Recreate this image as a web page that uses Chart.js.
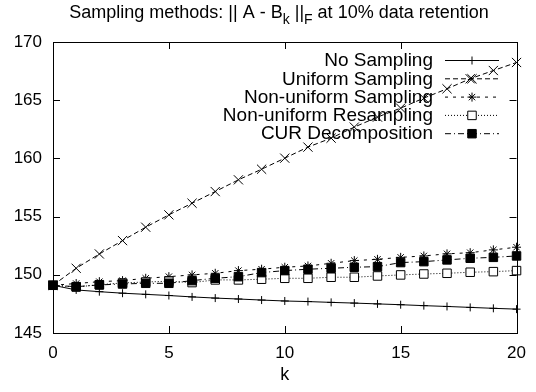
<!DOCTYPE html>
<html>
<head>
<meta charset="utf-8">
<script src="https://cdn.jsdelivr.net/npm/chart.js@4/dist/chart.umd.min.js"></script>
<style>
  body { margin: 0; background: #fff; }
  #wrap { width: 536px; height: 392px; }
</style>
</head>
<body>
<div id="wrap"><canvas id="lineChartCanvas"></canvas></div>
<script>
// values
var kValues = [0, 1, 2, 3, 4, 5, 6, 7, 8, 9, 10, 11, 12, 13, 14, 15, 16, 17, 18, 19, 20];
var noSampling = [149.1, 148.7, 148.55, 148.42, 148.32, 148.22, 148.1, 148.0, 147.92, 147.83, 147.75,
                  147.7, 147.63, 147.57, 147.5, 147.43, 147.35, 147.28, 147.2, 147.12, 147.05];
var uniformSampling = [149.1, 150.56, 151.79, 152.94, 154.09, 155.15, 156.15, 157.15, 158.16, 159.07, 160.02,
                       160.97, 161.74, 162.69, 163.55, 164.32, 165.18, 165.98, 166.84, 167.55, 168.24];
var nonUniformSampling = [149.1, 149.25, 149.41, 149.5, 149.7, 149.84, 149.99, 150.13, 150.36, 150.48, 150.65,
                          150.76, 150.99, 151.22, 151.33, 151.5, 151.62, 151.8, 151.9, 152.14, 152.37];
var nonUniformResampling = [149.1, 148.95, 149.15, 149.3, 149.38, 149.45, 149.33, 149.56, 149.56, 149.62, 149.7,
                            149.7, 149.79, 149.79, 149.9, 149.99, 150.07, 150.13, 150.22, 150.27, 150.36];
var curDecomposition = [149.1, 148.98, 149.13, 149.21, 149.27, 149.27, 149.5, 149.7, 149.84, 150.19, 150.36,
                        150.48, 150.56, 150.65, 150.7, 151.05, 151.13, 151.28, 151.42, 151.5, 151.62];
var seriesNames = ['No Sampling', 'Uniform Sampling', 'Non-uniform Sampling', 'Non-uniform Resampling', 'CUR Decomposition'];
var xTicks = [0, 5, 10, 15, 20];
var yTicks = [145, 150, 155, 160, 165, 170];

var FONT = '"Liberation Sans", Arial, Helvetica, sans-serif';

function pts(vals) {
  return kValues.map(function (k, i) { return { x: k, y: vals[i] }; });
}

function series(i, vals, style, radius, dash, fill) {
  return {
    label: seriesNames[i],
    data: pts(vals),
    borderColor: '#000',
    borderWidth: 1,
    borderDash: dash,
    pointStyle: style,
    pointRadius: radius,
    pointBorderColor: '#000',
    pointBorderWidth: 1,
    pointBackgroundColor: fill,
    tension: 0,
    fill: false,
    clip: false,
    order: 5 - i
  };
}

var datasets = [
  series(0, noSampling, 'cross', 4, [], '#000'),
  series(1, uniformSampling, 'crossRot', 6.5, [5, 3], '#000'),
  series(2, nonUniformSampling, 'star', 4.5, [3, 5], '#000'),
  series(3, nonUniformResampling, 'rect', 6, [1, 2], '#fff'),
  series(4, curDecomposition, 'rect', 6, [6, 3, 1, 3], '#000')
];

// title with subscripts, frame with inward ticks, gnuplot-style key
var decorPlugin = {
  id: 'decor',
  beforeDatasetsDraw: function (chart) {
    var ctx = chart.ctx;
    ctx.save();
    ctx.font = '19px ' + FONT;
    ctx.fillStyle = '#000';
    ctx.textAlign = 'right';
    ctx.textBaseline = 'middle';
    var rowY = [60, 78.3, 96.6, 114.9, 133.2];
    for (var i = 0; i < datasets.length; i++) {
      var ds = datasets[i];
      var y = rowY[i];
      ctx.fillText(ds.label, 433, y + 1);
      ctx.strokeStyle = '#000';
      ctx.lineWidth = 1;
      ctx.setLineDash(ds.borderDash);
      ctx.beginPath();
      ctx.moveTo(445, y + 0.5);
      ctx.lineTo(499, y + 0.5);
      ctx.stroke();
      ctx.setLineDash([]);
      ctx.fillStyle = ds.pointBackgroundColor;
      Chart.helpers.drawPoint(ctx, { pointStyle: ds.pointStyle, radius: ds.pointRadius, borderWidth: 1 }, 472, y + 0.5);
      ctx.fillStyle = '#000';
    }
    ctx.restore();
  },
  afterDraw: function (chart) {
    var ctx = chart.ctx;
    var a = chart.chartArea;
    var xs = chart.scales.x, ys = chart.scales.y;
    ctx.save();
    ctx.strokeStyle = '#000';
    ctx.lineWidth = 1;
    ctx.setLineDash([]);
    ctx.strokeRect(Math.round(a.left) + 0.5, Math.round(a.top) + 0.5,
                   Math.round(a.right - a.left), Math.round(a.bottom - a.top));
    var tl = 7;
    ctx.beginPath();
    xTicks.forEach(function (v) {
      var px = Math.round(xs.getPixelForValue(v)) + 0.5;
      ctx.moveTo(px, a.bottom); ctx.lineTo(px, a.bottom - tl);
      ctx.moveTo(px, a.top); ctx.lineTo(px, a.top + tl);
    });
    yTicks.forEach(function (v) {
      var py = Math.round(ys.getPixelForValue(v)) + 0.5;
      ctx.moveTo(a.left, py); ctx.lineTo(a.left + tl, py);
      ctx.moveTo(a.right, py); ctx.lineTo(a.right - tl, py);
    });
    ctx.stroke();

    // title
    var parts = [
      ['Sampling methods: || A - B', 0],
      ['k', 1],
      [' ||', 0],
      ['F', 1],
      [' at 10% data retention', 0]
    ];
    var big = '18px ' + FONT, small = '14px ' + FONT;
    var total = 0;
    parts.forEach(function (p) {
      ctx.font = p[1] ? small : big;
      total += ctx.measureText(p[0]).width;
    });
    var x = 279 - total / 2;
    ctx.fillStyle = '#000';
    ctx.textAlign = 'left';
    ctx.textBaseline = 'alphabetic';
    parts.forEach(function (p) {
      ctx.font = p[1] ? small : big;
      ctx.fillText(p[0], x, p[1] ? 24 : 18);
      x += ctx.measureText(p[0]).width;
    });
    ctx.restore();
  }
};

var ctx = document.getElementById('lineChartCanvas').getContext('2d');
var lineChart = new Chart(ctx, {
  type: 'line',
  data: { datasets: datasets },
  options: {
    maintainAspectRatio: false,
    animation: false,
    events: [],
    layout: { padding: { top: 42, right: 16, left: 0, bottom: 0 } },
    plugins: { legend: { display: false }, tooltip: { enabled: false }, title: { display: false } },
    scales: {
      x: {
        type: 'linear',
        min: 0, max: 20,
        afterFit: function (s) { s.height = 59; },
        afterBuildTicks: function (s) { s.ticks = xTicks.map(function (v) { return { value: v }; }); },
        grid: { display: false, drawTicks: false },
        border: { display: false },
        ticks: { color: '#000', font: { family: FONT, size: 17 }, padding: 10, maxRotation: 0 },
        title: { display: true, text: 'k', color: '#000', font: { family: FONT, size: 18 }, padding: { top: 4, bottom: 6 } }
      },
      y: {
        type: 'linear',
        min: 145, max: 170,
        afterFit: function (s) { s.width = 53; },
        afterBuildTicks: function (s) { s.ticks = yTicks.map(function (v) { return { value: v }; }); },
        grid: { display: false, drawTicks: false },
        border: { display: false },
        ticks: { color: '#000', font: { family: FONT, size: 17 }, padding: 11 }
      }
    }
  },
  plugins: [decorPlugin]
});
</script>
</body>
</html>
